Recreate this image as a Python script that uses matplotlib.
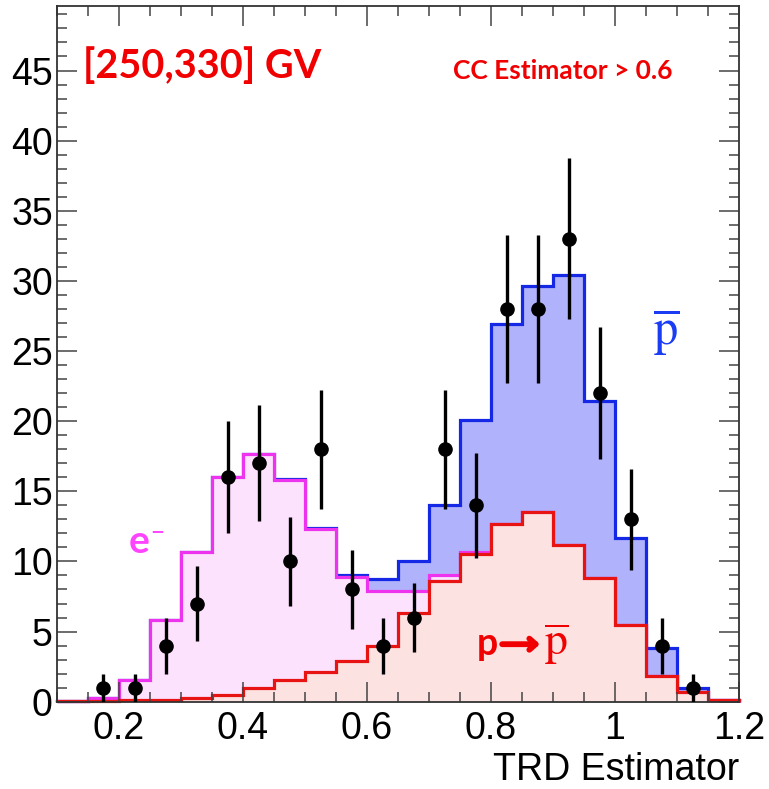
import numpy as np
import matplotlib
matplotlib.use("Agg")
from matplotlib import pyplot as plt
from matplotlib.ticker import MultipleLocator

# TRD estimator histogram, 22 bins of 0.05 between 0.1 and 1.2
bin_edges = np.round(np.arange(0.10, 1.2001, 0.05), 3)

# template contributions per bin (stacked: p->pbar, then e-, then pbar on top)
p_to_pbar = [0.05, 0.05, 0.1, 0.1, 0.25, 0.5, 0.95, 1.55, 2.15, 2.9, 4.0,
             6.3, 8.6, 10.55, 12.7, 13.5, 11.2, 8.8, 5.5, 1.85, 0.7, 0.1]
electrons = [0.0, 0.2, 1.45, 5.7, 10.45, 15.5, 16.7, 14.25, 10.15, 6.0, 3.9,
             1.6, 0.45, 0.15, 0.0, 0.0, 0.0, 0.0, 0.0, 0.0, 0.0, 0.0]
antiprotons = [0.0, 0.0, 0.0, 0.0, 0.0, 0.0, 0.0, 0.05, 0.1, 0.1, 0.85,
               2.1, 5.0, 9.35, 14.2, 16.15, 19.2, 12.65, 6.15, 2.0, 0.25, 0.05]

# measured counts with poisson errors
data_x = [0.175, 0.225, 0.275, 0.325, 0.375, 0.425, 0.475, 0.525, 0.575, 0.625,
          0.675, 0.725, 0.775, 0.825, 0.875, 0.925, 0.975, 1.025, 1.075, 1.125]
data_n = [1, 1, 4, 7, 16, 17, 10, 18, 8, 4, 6, 18, 14, 28, 28, 33, 22, 13, 4, 1]
data_err = [1.0, 1.0, 2.0, 2.65, 4.0, 4.12, 3.16, 4.24, 2.83, 2.0, 2.45, 4.24,
            3.74, 5.29, 5.29, 5.74, 4.69, 3.61, 2.0, 1.0]

FIGSIZE = (7.69, 7.89)
BOLD = ["Lato", "DejaVu Sans"]

plt.rcParams["mathtext.fontset"] = "stix"

fig = plt.figure(figsize=FIGSIZE, dpi=100)
ax = fig.add_axes([57/769, 1 - 701.7/789, (739-57)/769, (701.7-6)/789])

level1 = np.array(p_to_pbar)
level2 = level1 + np.array(electrons)
level3 = level2 + np.array(antiprotons)

# fills first, outlines after, from the top of the stack down
ax.stairs(level3, bin_edges, fill=True, color="#b0b2fb", lw=0)
ax.stairs(level3, bin_edges, color="#1428e6", lw=2.3, clip_on=False)
ax.stairs(level2, bin_edges, fill=True, color="#fde2fd", lw=0)
ax.stairs(level2, bin_edges, color="#ee33ee", lw=2.3, clip_on=False)
ax.stairs(level1, bin_edges, fill=True, color="#fde2e2", lw=0)
ax.stairs(level1, bin_edges, color="#e81414", lw=2.3, clip_on=False)

ax.errorbar(data_x, data_n, yerr=data_err, fmt="o", color="black", ms=9.5,
            elinewidth=2.4, capsize=0, zorder=5)

ax.set_xlim(0.1, 1.2)
ax.set_ylim(0, 49.6)
ax.xaxis.set_major_locator(MultipleLocator(0.2))
ax.xaxis.set_minor_locator(MultipleLocator(0.05))
ax.yaxis.set_major_locator(MultipleLocator(5))
ax.yaxis.set_minor_locator(MultipleLocator(1))
ax.set_xticks([0.2, 0.4, 0.6, 0.8, 1.0, 1.2])
ax.set_xticklabels(["0.2", "0.4", "0.6", "0.8", "1", "1.2"])

for s in ax.spines.values():
    s.set_color("#333333")
    s.set_linewidth(1.3)
ax.tick_params(which="both", direction="in", top=True, right=True,
               color="#444444", width=1.1)
ax.tick_params(which="major", length=14.5)
ax.tick_params(which="minor", length=7.2)
ax.tick_params(axis="both", labelsize=27, labelfontfamily="Liberation Sans")
ax.tick_params(axis="x", pad=7)
ax.tick_params(axis="y", pad=3)
ax.set_xlabel("TRD Estimator", loc="right", fontsize=27,
              family="Liberation Sans", labelpad=3)

# annotations
ax.text(0.142, 44.5, "[250,330] GV", color="#f00000", fontsize=28.5,
        fontweight="bold", family=BOLD, va="baseline")
ax.text(0.739, 44.4, "CC Estimator > 0.6", color="#f00000", fontsize=19,
        fontweight="bold", family=BOLD, va="baseline")
ax.text(1.082, 25.4, r"$\overline{\mathrm{p}}$", color="#1a3cf5", fontsize=35,
        ha="center", va="baseline")
ax.text(0.216, 10.6, "e", color="#ff44ff", fontsize=28, fontweight="bold",
        family=BOLD, va="baseline")
ax.text(0.262, 12.2, "\u2212", color="#ff44ff", fontsize=12, fontweight="bold",
        family="DejaVu Sans", ha="center", va="center")

# p -> pbar label: bold p, thick arrow, serif pbar
ax.text(0.777, 3.3, "p", color="#f00000", fontsize=27, fontweight="bold",
        family=BOLD, va="baseline")
ax.annotate("", xy=(0.879, 4.1), xytext=(0.818, 4.1),
            arrowprops=dict(arrowstyle="->,head_length=0.45,head_width=0.4",
                            color="#f00000", lw=4.2, shrinkA=0, shrinkB=0))
ax.text(0.885, 3.3, r"$\overline{\mathrm{p}}$", color="#f00000", fontsize=33,
        va="baseline")

fig.savefig("out.png", dpi=100)
